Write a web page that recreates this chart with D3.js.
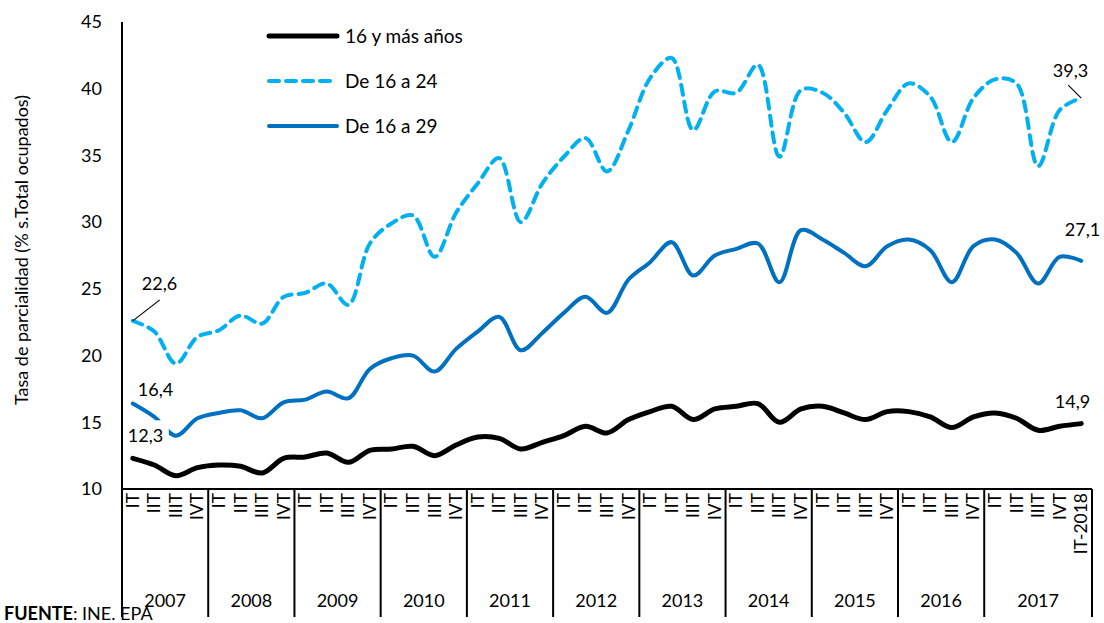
<!DOCTYPE html>
<html>
<head>
<meta charset="utf-8">
<script src="https://cdn.jsdelivr.net/npm/d3@7"></script>
<style>
  body { margin: 0; background: #fff; }
  svg { font-family: Lato, "Open Sans", sans-serif; }
</style>
</head>
<body>
<svg id="chart" width="1104" height="623"></svg>
<script>
// quarters 2007 IT ... 2017 IVT, IT-2018
const years = ['2007', '2008', '2009', '2010', '2011', '2012', '2013', '2014', '2015', '2016', '2017'];
const quarterNames = ['IT', 'IIT', 'IIIT', 'IVT'];
const quarters = years.flatMap(y => quarterNames.map(q => q + '-' + y)).concat(['IT-2018']);

const total = [12.3, 11.8, 11.0, 11.6, 11.8, 11.7, 11.2, 12.3, 12.4, 12.7, 12.0, 12.9, 13.0, 13.2, 12.5,
  13.3, 13.9, 13.8, 13.0, 13.5, 14.0, 14.7, 14.2, 15.2, 15.8, 16.2, 15.2, 16.0, 16.2, 16.4,
  15.0, 16.0, 16.2, 15.7, 15.2, 15.8, 15.8, 15.4, 14.6, 15.4, 15.7, 15.3, 14.4, 14.7, 14.9];

const age16to24 = [22.6, 21.8, 19.4, 21.4, 21.9, 23.0, 22.4, 24.4, 24.7, 25.4, 23.8, 28.4, 29.9, 30.5, 27.4,
  30.7, 32.9, 34.8, 30.0, 32.9, 34.9, 36.3, 33.8, 36.9, 40.8, 42.3, 36.9, 39.8, 39.7, 41.8,
  34.9, 39.9, 39.7, 38.2, 36.0, 38.4, 40.4, 39.4, 36.0, 39.3, 40.7, 40.4, 34.2, 38.4, 39.3];

const age16to29 = [16.4, 15.4, 14.0, 15.3, 15.7, 15.9, 15.3, 16.5, 16.7, 17.3, 16.8, 19.0, 19.8, 20.0, 18.8,
  20.5, 21.8, 22.9, 20.4, 21.7, 23.2, 24.4, 23.2, 25.7, 27.0, 28.5, 26.0, 27.5, 28.0, 28.4,
  25.5, 29.4, 28.7, 27.7, 26.7, 28.2, 28.7, 27.9, 25.5, 28.2, 28.7, 27.7, 25.4, 27.4, 27.1];

const yTicks = [10, 15, 20, 25, 30, 35, 40, 45];

const series = [
  {name: '16 y más años', values: total, color: '#000000', width: 5, dash: null},
  {name: 'De 16 a 24', values: age16to24, color: '#00B0F0', width: 4, dash: '10,7'},
  {name: 'De 16 a 29', values: age16to29, color: '#0070C0', width: 4, dash: null}
];

const svg = d3.select('#chart');
const plotLeft = 122, plotRight = 1092, plotTop = 22, plotBottom = 489;

const x = d3.scaleBand()
    .domain(d3.range(quarters.length))
    .range([plotLeft, plotRight])
    .paddingInner(0).paddingOuter(0);
const cx = i => x(i) + x.bandwidth() / 2;

const y = d3.scaleLinear()
    .domain([10, 45])
    .range([plotBottom, plotTop]);

// y tick labels
svg.append('g').selectAll('text')
    .data(yTicks)
  .join('text')
    .attr('x', 102)
    .attr('y', d => y(d))
    .attr('dy', '0.35em')
    .attr('text-anchor', 'end')
    .attr('font-size', 18)
    .attr('fill', '#000')
    .text(d => d);

// y title
svg.append('text')
    .attr('transform', 'translate(28,250) rotate(-90)')
    .attr('text-anchor', 'middle')
    .attr('font-size', 18)
    .text('Tasa de parcialidad (% s.Total ocupados)');

// x axis table: quarter labels, year separators, year labels
const xg = svg.append('g');
xg.selectAll('text.q')
    .data(quarters)
  .join('text')
    .attr('class', 'q')
    .attr('transform', (d, i) => `translate(${cx(i) + 6},${plotBottom + 4}) rotate(-90)`)
    .attr('text-anchor', 'end')
    .attr('font-size', 17.5)
    .text(d => d === 'IT-2018' ? d : d.split('-')[0]);

const bounds = years.map((yr, k) => x(k * 4)).concat([plotRight]);
xg.selectAll('line.sep')
    .data(bounds)
  .join('line')
    .attr('class', 'sep')
    .attr('x1', d => d).attr('x2', d => d)
    .attr('y1', plotBottom).attr('y2', 617)
    .attr('stroke', '#000')
    .attr('stroke-width', 2);

xg.selectAll('text.yr')
    .data(years)
  .join('text')
    .attr('class', 'yr')
    .attr('x', (d, k) => (bounds[k] + bounds[k + 1]) / 2)
    .attr('y', 607)
    .attr('text-anchor', 'middle')
    .attr('font-size', 18)
    .text(d => d);

// lines
const line = d3.line()
    .x((d, i) => cx(i))
    .y(d => y(d))
    .curve(d3.curveCatmullRom.alpha(0.5));

svg.append('g').selectAll('path')
    .data(series)
  .join('path')
    .attr('d', d => line(d.values))
    .attr('fill', 'none')
    .attr('stroke', d => d.color)
    .attr('stroke-width', d => d.width)
    .attr('stroke-dasharray', d => d.dash)
    .attr('stroke-linecap', 'round');

// axes lines
svg.append('line')
    .attr('x1', plotLeft).attr('x2', plotRight)
    .attr('y1', plotBottom).attr('y2', plotBottom)
    .attr('stroke', '#000').attr('stroke-width', 2);
svg.append('line')
    .attr('x1', plotLeft).attr('x2', plotLeft)
    .attr('y1', plotTop).attr('y2', plotBottom)
    .attr('stroke', '#000').attr('stroke-width', 2);

// data labels
const last = quarters.length - 1;
const fmt = v => String(v.toFixed(1)).replace('.', ',');
const ann = svg.append('g').attr('font-size', 18);

ann.append('line')
    .attr('x1', cx(0)).attr('y1', y(age16to24[0]))
    .attr('x2', cx(0) + 27).attr('y2', y(age16to24[0]) - 21)
    .attr('stroke', '#000').attr('stroke-width', 1.2);
ann.append('text').attr('x', cx(0) + 9).attr('y', y(age16to24[0]) - 31).text(fmt(age16to24[0]));
ann.append('text').attr('x', cx(0) + 5).attr('y', y(age16to29[0]) - 8).text(fmt(age16to29[0]));

const lbl = ann.append('g');
lbl.append('rect')
    .attr('x', cx(0) - 8).attr('y', y(total[0]) - 38)
    .attr('width', 44).attr('height', 34)
    .attr('fill', '#fff');
lbl.append('text').attr('x', cx(0) - 5).attr('y', y(total[0]) - 16).text(fmt(total[0]));

ann.append('line')
    .attr('x1', cx(last)).attr('y1', y(age16to24[last]))
    .attr('x2', cx(last) - 13).attr('y2', y(age16to24[last]) - 13)
    .attr('stroke', '#000').attr('stroke-width', 1.2);
ann.append('text').attr('x', cx(last) + 7).attr('y', y(age16to24[last]) - 21)
    .attr('text-anchor', 'end').text(fmt(age16to24[last]));
ann.append('text').attr('x', cx(last) + 19).attr('y', y(age16to29[last]) - 25)
    .attr('text-anchor', 'end').text(fmt(age16to29[last]));
ann.append('text').attr('x', cx(last) + 9).attr('y', y(total[last]) - 16)
    .attr('text-anchor', 'end').text(fmt(total[last]));

// legend
const legend = svg.append('g').attr('transform', 'translate(269,36)');
const item = legend.selectAll('g')
    .data(series)
  .join('g')
    .attr('transform', (d, i) => `translate(0,${i * 45})`);
item.append('line')
    .attr('x1', 0).attr('x2', 68)
    .attr('stroke', d => d.color)
    .attr('stroke-width', d => d.width)
    .attr('stroke-dasharray', d => d.dash)
    .attr('stroke-linecap', 'round');
item.append('text')
    .attr('x', 76).attr('dy', '0.35em')
    .attr('font-size', 19)
    .text(d => d.name);

// source
const src = svg.append('text').attr('x', 4).attr('y', 620).attr('font-size', 18);
src.append('tspan').attr('font-weight', 'bold').text('FUENTE');
src.append('tspan').text(': INE. EPA');
</script>
</body>
</html>
